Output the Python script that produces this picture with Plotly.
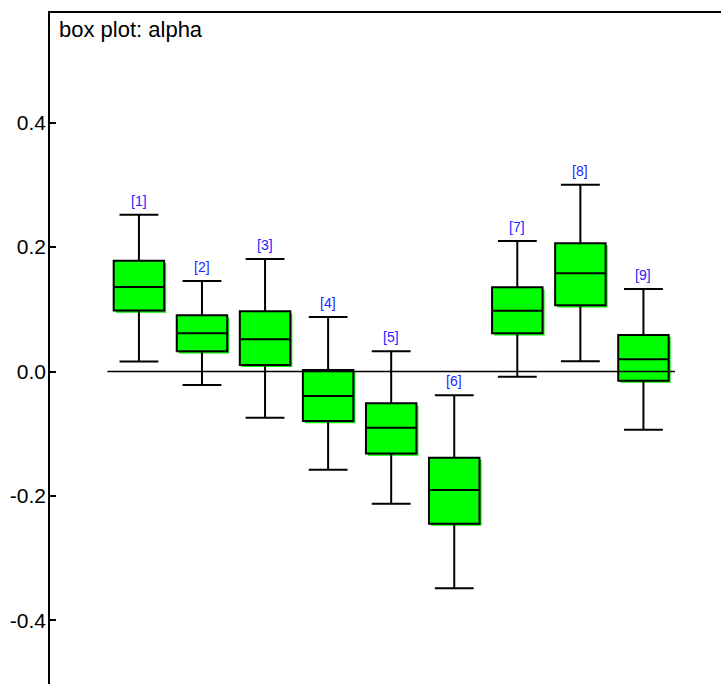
import plotly.graph_objects as go

# Summary statistics for each group (box plot: alpha)
groups = [1, 2, 3, 4, 5, 6, 7, 8, 9]
labels = ["[1]", "[2]", "[3]", "[4]", "[5]", "[6]", "[7]", "[8]", "[9]"]
upper = [0.252, 0.1455, 0.181, 0.0876, 0.0325, -0.0383, 0.2098, 0.3003, 0.1326]
q3 = [0.178, 0.0904, 0.0968, 0.0024, -0.0511, -0.1386, 0.1354, 0.2061, 0.0587]
median = [0.136, 0.0614, 0.0518, -0.0394, -0.0904, -0.1905, 0.0977, 0.1579, 0.0196]
q1 = [0.098, 0.0325, 0.0105, -0.0796, -0.132, -0.2447, 0.0614, 0.1064, -0.0148]
lower = [0.016, -0.0217, -0.0743, -0.158, -0.2125, -0.3486, -0.0084, 0.0164, -0.0936]

ytick_vals = [0.4, 0.2, 0.0, -0.2, -0.4]
ytick_text = ["0.4", "0.2", "0.0", "-0.2", "-0.4"]

FONT = "Liberation Sans, Arial, sans-serif"
GREEN = "#00ff00"
BOX_W = 0.8
# drop-shadow offset in axis units (about 2 px each way)
SH_DX = 0.032
SH_DY = 0.0034

fig = go.Figure()

# reference line at zero across the groups
fig.add_trace(go.Scatter(
    x=[groups[0] - 0.5, groups[-1] + 0.5], y=[0, 0], mode="lines",
    line=dict(color="black", width=1.5), hoverinfo="skip", showlegend=False,
))

# shadow behind each box
fig.add_trace(go.Box(
    x=[g + SH_DX for g in groups],
    q1=[v - SH_DY for v in q1], median=[v - SH_DY for v in median],
    q3=[v - SH_DY for v in q3],
    lowerfence=[v - SH_DY for v in q1], upperfence=[v - SH_DY for v in q3],
    width=BOX_W, fillcolor="#00f000", line=dict(color="#00f000", width=0),
    whiskerwidth=0, boxpoints=False, hoverinfo="skip", showlegend=False,
))

# the boxes
fig.add_trace(go.Box(
    x=groups, q1=q1, median=median, q3=q3,
    lowerfence=lower, upperfence=upper,
    width=BOX_W, fillcolor=GREEN, line=dict(color="black", width=2),
    whiskerwidth=0.77, boxpoints=False, hoverinfo="skip", showlegend=False,
))

# group labels above the upper whiskers
for g, lab, u in zip(groups, labels, upper):
    fig.add_annotation(
        x=g, y=u, text=lab, showarrow=False, xref="x", yref="y",
        yanchor="middle", yshift=14,
        font=dict(family=FONT, size=14, color="#2424ff"),
    )

fig.add_annotation(
    xref="paper", yref="paper", x=0, y=1, xanchor="left", yanchor="top",
    xshift=7, yshift=-2, text="box plot: alpha", showarrow=False,
    font=dict(family=FONT, size=22, color="black"),
)

fig.update_layout(
    width=721, height=684,
    margin=dict(l=50, r=0, t=13, b=0),
    paper_bgcolor="white", plot_bgcolor="white",
    boxmode="overlay",
    font=dict(family=FONT, color="black"),
    xaxis=dict(
        range=[-0.41, 10.23], side="top", showline=True, linecolor="black",
        linewidth=1.5, showticklabels=False, ticks="", showgrid=False,
        zeroline=False, fixedrange=True,
    ),
    yaxis=dict(
        range=[-0.5024, 0.5764], showline=True, linecolor="black",
        linewidth=1.5, ticks="inside", ticklen=6, tickwidth=1.5,
        tickcolor="black", tickvals=ytick_vals, ticktext=ytick_text,
        tickfont=dict(family=FONT, size=21, color="black"),
        ticklabelstandoff=-2,
        showgrid=False, zeroline=False, fixedrange=True,
    ),
)

fig.write_html("out.html")
